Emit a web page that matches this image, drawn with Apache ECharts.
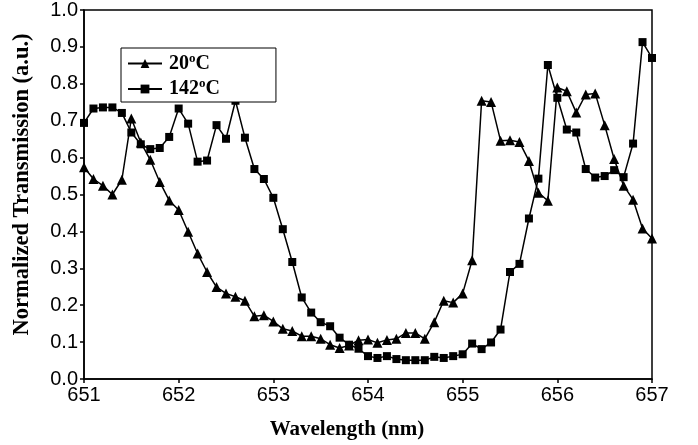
<!DOCTYPE html>
<html>
<head>
<meta charset="utf-8">
<script src="https://cdn.jsdelivr.net/npm/echarts@6/dist/echarts.min.js"></script>
<style>
html,body{margin:0;padding:0;background:#fff;}
#chart{width:698px;height:445px;}
</style>
</head>
<body>
<div id="chart"></div>
<script>
const wavelength = [651.0,651.1,651.2,651.3,651.4,651.5,651.6,651.7,651.8,651.9,
  652.0,652.1,652.2,652.3,652.4,652.5,652.6,652.7,652.8,652.9,
  653.0,653.1,653.2,653.3,653.4,653.5,653.6,653.7,653.8,653.9,
  654.0,654.1,654.2,654.3,654.4,654.5,654.6,654.7,654.8,654.9,
  655.0,655.1,655.2,655.3,655.4,655.5,655.6,655.7,655.8,655.9,
  656.0,656.1,656.2,656.3,656.4,656.5,656.6,656.7,656.8,656.9,657.0];

const t20 = [0.574,0.542,0.524,0.500,0.540,0.706,0.641,0.594,0.534,0.484,
  0.458,0.399,0.340,0.290,0.249,0.232,0.223,0.212,0.170,0.173,
  0.156,0.136,0.130,0.116,0.116,0.109,0.093,0.084,0.091,0.105,
  0.107,0.098,0.106,0.109,0.125,0.125,0.109,0.154,0.212,0.207,
  0.232,0.322,0.754,0.751,0.646,0.647,0.642,0.591,0.505,0.483,
  0.790,0.780,0.722,0.771,0.774,0.688,0.596,0.524,0.486,0.408,0.381];

const t142 = [0.694,0.733,0.736,0.736,0.721,0.668,0.636,0.623,0.626,0.656,
  0.733,0.692,0.589,0.592,0.688,0.651,0.754,0.654,0.569,0.542,
  0.491,0.406,0.317,0.221,0.180,0.154,0.143,0.112,0.093,0.082,
  0.062,0.057,0.062,0.054,0.051,0.051,0.051,0.060,0.057,0.062,
  0.067,0.096,0.081,0.099,0.134,0.290,0.312,0.435,0.543,0.851,
  0.762,0.676,0.668,0.569,0.546,0.550,0.566,0.547,0.638,0.913,0.870];

const xTicks = [651,652,653,654,655,656,657];
const seriesNames = ['20oC','142oC'];

const chart = echarts.init(document.getElementById('chart'), null, {renderer:'canvas'});
const pairs = arr => arr.map((v,i)=>[wavelength[i], v]);
const tickFont = {fontFamily:'"Liberation Sans", Arial, sans-serif', fontSize:20, color:'#000'};
const titleFont = {fontFamily:'"Liberation Serif","Times New Roman", serif', fontSize:21, fontWeight:'bold', color:'#000'};

chart.setOption({
  animation:false,
  backgroundColor:'#fff',
  grid:{left:84, right:46, top:10, bottom:61, show:true, borderColor:'#000', borderWidth:1.5, backgroundColor:'transparent'},
  legend:{
    left:121, top:48, orient:'vertical',
    data:seriesNames,
    itemWidth:34, itemHeight:11, itemGap:4,
    padding:[4,56,3,6],
    borderColor:'#000', borderWidth:1, backgroundColor:'#fff',
    formatter: n => n.replace('oC','{sup|o}C'),
    textStyle:{...titleFont, fontSize:20, padding:[0,0,0,2],
      rich:{sup:{fontFamily:'"Liberation Serif", serif', fontSize:13, fontWeight:'bold', verticalAlign:'top', padding:[0,0,10,0], color:'#000'}}}
  },
  xAxis:{
    type:'value', min:xTicks[0], max:xTicks[xTicks.length-1], interval:1,
    name:'Wavelength (nm)', nameLocation:'middle', nameGap:40,
    nameTextStyle:{...titleFont, padding:[0,42,0,0]},
    axisLine:{show:true, onZero:false, lineStyle:{color:'#000', width:1.5}},
    axisTick:{show:true, length:4, lineStyle:{color:'#000', width:1.5}},
    axisLabel:{...tickFont, margin:6},
    splitLine:{show:false}
  },
  yAxis:{
    type:'value', min:0, max:1, interval:0.1,
    name:'Normalized Transmission (a.u.)', nameLocation:'middle', nameGap:50,
    nameTextStyle:{...titleFont, fontSize:22.5, padding:[0,0,0,20]},
    axisLine:{show:true, lineStyle:{color:'#000', width:1.5}},
    axisTick:{show:true, length:4, lineStyle:{color:'#000', width:1.5}},
    axisLabel:{...tickFont, margin:6, formatter: v => v.toFixed(1)},
    splitLine:{show:false}
  },
  series:[
    {name:seriesNames[0], type:'line', data:pairs(t20), symbol:'triangle', symbolSize:10,
     lineStyle:{color:'#000', width:1.5}, itemStyle:{color:'#000'}, showAllSymbol:true},
    {name:seriesNames[1], type:'line', data:pairs(t142), symbol:'rect', symbolSize:8,
     lineStyle:{color:'#000', width:1.5}, itemStyle:{color:'#000'}, showAllSymbol:true}
  ]
});
</script>
</body>
</html>
